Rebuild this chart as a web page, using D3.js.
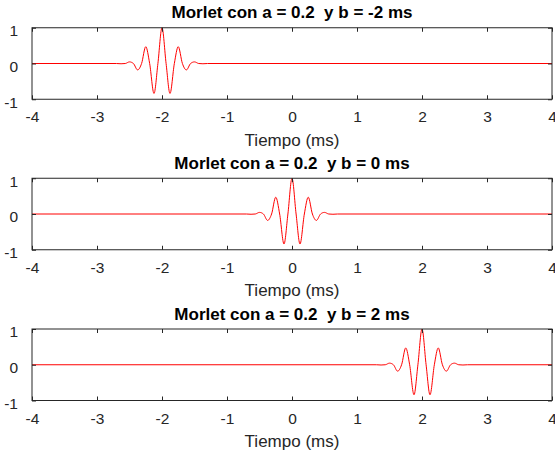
<!DOCTYPE html>
<html>
<head>
<meta charset="utf-8">
<script src="https://cdn.jsdelivr.net/npm/d3@7"></script>
<style>
  html, body { margin: 0; padding: 0; background: #fff; }
  svg { display: block; font-family: "Liberation Sans", Arial, Helvetica, sans-serif; }
</style>
</head>
<body>
<svg id="chart" width="555" height="457"></svg>
<script>
// Morlet wavelet (a = 0.2) sampled at its extrema and zero crossings,
// as offsets in ms from the centre b.
const waveOffsets = [-0.70, -0.63, -0.565, -0.50, -0.44, -0.375, -0.314, -0.25, -0.19, -0.123, -0.063, 0,
                      0.063, 0.123, 0.19, 0.25, 0.314, 0.375, 0.44, 0.50, 0.565, 0.63, 0.70];
const waveValues  = [0, -0.007, 0, 0.045, 0, -0.18, 0, 0.47, 0, -0.84, 0, 1,
                     0, -0.84, 0, 0.47, 0, -0.18, 0, 0.045, 0, -0.007, 0];
// Centre b of each panel (ms)
const centres = [-2, 0, 2];
const titles = ["Morlet con a = 0.2  y b = -2 ms",
                "Morlet con a = 0.2  y b = 0 ms",
                "Morlet con a = 0.2  y b = 2 ms"];
const timeRange = [-4, 4];
const xTicks = [-4, -3, -2, -1, 0, 1, 2, 3, 4];
const yTicks = [-1, 0, 1];
const xLabel = "Tiempo (ms)";

const svg = d3.select("#chart");
const left = 32, right = 552;
const panelTops = [27.75, 178.25, 329];
const panelH = 71.5;
const axisColor = "#262626";
const plain = d => String(d);   // hyphen-minus labels

const x = d3.scaleLinear().domain(timeRange).range([left, right]);

centres.forEach((b, i) => {
  const top = panelTops[i];
  const y = d3.scaleLinear().domain([-1, 1]).range([top + panelH, top]);
  const g = svg.append("g");

  // series: flat line across the time range with the wavelet centred at b
  const pts = [{t: timeRange[0], v: 0}]
    .concat(waveOffsets.map((u, k) => ({t: b + u, v: waveValues[k]})))
    .concat([{t: timeRange[1], v: 0}]);

  g.append("path")
    .datum(pts)
    .attr("fill", "none")
    .attr("stroke", "#ff0000")
    .attr("stroke-width", 1)
    .attr("d", d3.line().x(d => x(d.t)).y(d => y(d.v)).curve(d3.curveMonotoneX));

  // bottom axis with labels, ticks pointing inward
  const xb = g.append("g").attr("transform", `translate(0,${top + panelH})`)
    .call(d3.axisBottom(x).tickValues(xTicks).tickSizeInner(-4).tickSizeOuter(0).tickPadding(10)
      .tickFormat(plain));
  // top axis ticks only
  const xt = g.append("g").attr("transform", `translate(0,${top})`)
    .call(d3.axisTop(x).tickValues(xTicks).tickSizeInner(-4).tickSizeOuter(0).tickFormat(""));
  // left axis with labels
  const yl = g.append("g").attr("transform", `translate(${left},0)`)
    .call(d3.axisLeft(y).tickValues(yTicks).tickSizeInner(-4).tickSizeOuter(0).tickPadding(14)
      .tickFormat(plain));
  const yr = g.append("g").attr("transform", `translate(${right},0)`)
    .call(d3.axisRight(y).tickValues(yTicks).tickSizeInner(-4).tickSizeOuter(0).tickFormat(""));

  [xb, xt, yl, yr].forEach(a => {
    a.select(".domain").remove();
    a.selectAll("line").attr("stroke", axisColor);
    a.selectAll("text").attr("fill", axisColor).style("font-size", "15.5px")
      .style("font-family", "'Liberation Sans', Arial, Helvetica, sans-serif");
  });
  yl.selectAll("text").attr("dy", "0.5em");
  xb.selectAll("text").attr("dy", "0.85em");

  // axes box
  g.append("rect")
    .attr("x", left).attr("y", top)
    .attr("width", right - left).attr("height", panelH)
    .attr("fill", "none").attr("stroke", axisColor).attr("stroke-width", 1);

  // title
  g.append("text")
    .attr("x", (left + right) / 2).attr("y", top - 9.5)
    .attr("text-anchor", "middle")
    .attr("fill", "#000")
    .style("font-size", "17px").style("font-weight", "bold")
    .style("white-space", "pre")
    .text(titles[i]);

  // x label
  g.append("text")
    .attr("x", (left + right) / 2).attr("y", top + panelH + 46.5)
    .attr("text-anchor", "middle")
    .attr("fill", axisColor)
    .style("font-size", "17px")
    .text(xLabel);
});
</script>
</body>
</html>
